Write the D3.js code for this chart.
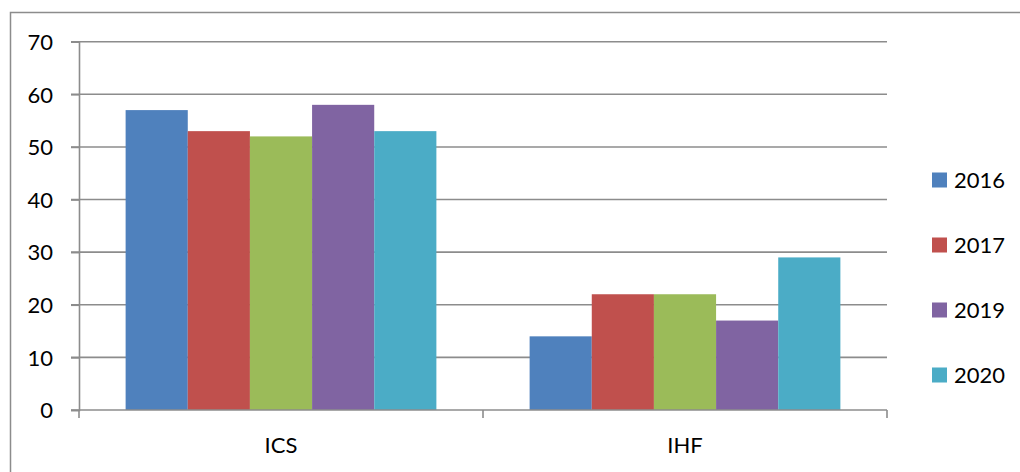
<!DOCTYPE html>
<html>
<head>
<meta charset="utf-8">
<script src="https://cdn.jsdelivr.net/npm/d3@7"></script>
<style>
  body { margin: 0; background: #fff; }
  text { font-family: Lato, "Open Sans", sans-serif; fill: #000; }
</style>
</head>
<body>
<div id="chart"></div>
<script>
// data
var categories = ['ICS', 'IHF']
var seriesNames = ['2016', '2017', '2018', '2019', '2020']
var seriesColors = ['#4f81bd', '#c0504d', '#9bbb59', '#8064a2', '#4bacc6']
var values2016 = [57, 14]
var values2017 = [53, 22]
var values2018 = [52, 22]
var values2019 = [58, 17]
var values2020 = [53, 29]
var yTicks = [0, 10, 20, 30, 40, 50, 60, 70]
// the legend in the original leaves out the green one
var legendNames = ['2016', '2017', '2019', '2020']

var allValues = [values2016, values2017, values2018, values2019, values2020]

var width = 1020
var height = 472
var margin = { top: 41.7, left: 79, right: 133, bottom: 62 }

var svg = d3.select('#chart')
  .append('svg')
  .attr('width', width)
  .attr('height', height)

// outer frame (runs off right and bottom)
svg.append('rect')
  .attr('x', 10.5)
  .attr('y', 12.5)
  .attr('width', 1020)
  .attr('height', 500)
  .attr('fill', 'none')
  .attr('stroke', '#8c8c8c')
  .attr('stroke-width', 1.5)

var x0 = d3.scaleBand()
  .domain(categories)
  .range([margin.left, width - margin.right])

var x1 = d3.scaleBand()
  .domain(seriesNames)
  .range([0, x0.bandwidth()])
  .paddingInner(0)
  .paddingOuter(0.75)

var y = d3.scaleLinear()
  .domain([0, 70])
  .range([height - margin.bottom, margin.top])

// gridlines
svg.append('g')
  .selectAll('line')
  .data(yTicks.slice(1))
  .enter()
  .append('line')
  .attr('x1', margin.left - 8)
  .attr('x2', width - margin.right)
  .attr('y1', d => y(d))
  .attr('y2', d => y(d))
  .attr('stroke', '#8c8c8c')
  .attr('stroke-width', 1.6)

// bars
var groups = svg.append('g')
  .selectAll('g')
  .data(seriesNames)
  .enter()
  .append('g')
  .attr('fill', (d, i) => seriesColors[i])

groups.each(function(name, i) {
  d3.select(this)
    .selectAll('rect')
    .data(allValues[i])
    .enter()
    .append('rect')
    .attr('x', (d, j) => x0(categories[j]) + x1(name))
    .attr('width', x1.bandwidth())
    .attr('y', d => y(d))
    .attr('height', d => y(0) - y(d))
})

// y axis
var yAxis = d3.axisLeft(y).tickValues(yTicks).tickSize(8).tickPadding(18)
var yg = svg.append('g')
  .attr('transform', 'translate(' + margin.left + ',0)')
  .call(yAxis)
yg.select('.domain').attr('stroke', '#8c8c8c').attr('stroke-width', 1.6)
yg.selectAll('.tick line').attr('stroke', '#8c8c8c').attr('stroke-width', 1.6)
yg.selectAll('.tick text')
  .attr('font-size', 22)
  .attr('font-family', 'Lato, sans-serif')
  .attr('dy', '0.35em')

// x axis
var xg = svg.append('g')
  .attr('transform', 'translate(0,' + y(0) + ')')
xg.append('line')
  .attr('x1', margin.left - 8)
  .attr('x2', width - margin.right)
  .attr('stroke', '#8c8c8c')
  .attr('stroke-width', 1.6)
var boundaries = [x0.range()[0]].concat(categories.map(c => x0(c) + x0.bandwidth()))
xg.selectAll('.xtick')
  .data(boundaries)
  .enter()
  .append('line')
  .attr('x1', d => d)
  .attr('x2', d => d)
  .attr('y1', 0)
  .attr('y2', 8)
  .attr('stroke', '#8c8c8c')
  .attr('stroke-width', 1.6)
xg.selectAll('.xlabel')
  .data(categories)
  .enter()
  .append('text')
  .text(d => d)
  .attr('x', d => x0(d) + x0.bandwidth() / 2)
  .attr('y', 43)
  .attr('text-anchor', 'middle')
  .attr('font-size', 22)

// legend
var legend = svg.append('g')
  .selectAll('g')
  .data(legendNames)
  .enter()
  .append('g')
  .attr('transform', (d, i) => 'translate(932,' + (180 + i * 65) + ')')

legend.append('rect')
  .attr('x', 0)
  .attr('y', -7.5)
  .attr('width', 15)
  .attr('height', 15)
  .attr('fill', d => seriesColors[seriesNames.indexOf(d)])

legend.append('text')
  .text(d => d)
  .attr('x', 22)
  .attr('y', 0)
  .attr('dy', '0.35em')
  .attr('font-size', 22)
</script>
</body>
</html>
